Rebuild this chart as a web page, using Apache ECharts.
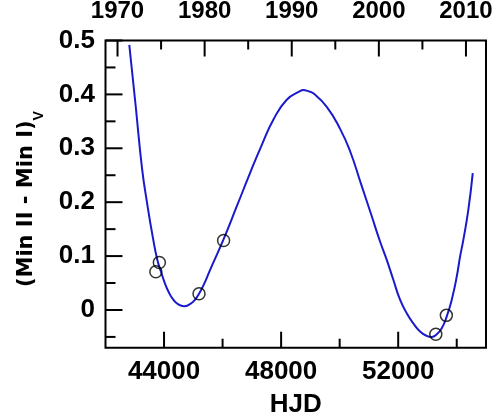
<!DOCTYPE html>
<html>
<head>
<meta charset="utf-8">
<script src="https://cdn.jsdelivr.net/npm/echarts@6/dist/echarts.min.js"></script>
<style>
  html, body { margin: 0; padding: 0; background: #fff; }
  #chart { width: 500px; height: 415px; }
</style>
</head>
<body>
<div id="chart"></div>
<script>
// Fitted (Min II - Min I) curve, sampled along HJD (HJD - 2400000)
const fitHJD = [42813, 43032, 43250, 43428, 43613, 43770, 43896, 44033, 44170, 44306,
  44477, 44682, 44887, 45058, 45195, 45366, 45571, 46025, 46483, 46938, 47337, 47734,
  48192, 48646, 48760, 48919, 49101, 49559, 50015, 50354, 50730, 51072, 51380, 51609,
  51834, 52063, 52292, 52518, 52746, 52975, 53146, 53317, 53488, 53659, 53830, 54001,
  54114, 54226, 54397, 54547];
const fitValue = [0.492, 0.378, 0.262, 0.196, 0.136, 0.093, 0.071, 0.049, 0.032, 0.020,
  0.011, 0.007, 0.011, 0.019, 0.030, 0.048, 0.074, 0.130, 0.192, 0.254, 0.306, 0.353,
  0.390, 0.406, 0.408, 0.406, 0.402, 0.377, 0.336, 0.295, 0.234, 0.178, 0.127, 0.093,
  0.056, 0.019, -0.006, -0.025, -0.040, -0.048, -0.050, -0.045, -0.034, -0.012, 0.019, 0.062,
  0.099, 0.130, 0.186, 0.254];

// Observed secondary-minus-primary minimum offsets
const obsHJD = [43720, 43840, 45195, 46035, 53285, 53645];
const obsValue = [0.071, 0.088, 0.030, 0.129, -0.045, -0.010];

// Tick positions
const hjdMajorTicks = [44000, 48000, 52000];
const hjdMinorTicks = [46000, 50000, 54000];
const yearMajorTicks = [1970, 1980, 1990, 2000, 2010];
const yearMinorTicks = [1975, 1985, 1995, 2005];
const yMajorTicks = [0, 0.1, 0.2, 0.3, 0.4, 0.5];
const yMinorTicks = [-0.05, 0.05, 0.15, 0.25, 0.35, 0.45];

const HJD_MIN = 42000, HJD_MAX = 55000;
const YEAR_MIN = 1968.62, YEAR_MAX = 2012.3;
const Y_MIN = -0.07, Y_MAX = 0.5;

const FONT = 'Liberation Sans, Arial, sans-serif';
const plain = v => String(Math.round(v));

// Inward tick marks, placed through the axes' own scales.
// dx/dy give the tick's direction and length in pixels.
function tickSeries(points, xAxisIndex, dx, dy) {
  return {
    type: 'custom',
    coordinateSystem: 'cartesian2d',
    xAxisIndex: xAxisIndex,
    yAxisIndex: 0,
    silent: true,
    z: 4,
    data: points,
    renderItem: (params, api) => {
      const p = api.coord([api.value(0), api.value(1)]);
      return {
        type: 'line',
        shape: { x1: p[0], y1: p[1], x2: p[0] + dx, y2: p[1] + dy },
        style: { stroke: '#000', lineWidth: 2 }
      };
    }
  };
}

const hidden = { show: false };

const chart = echarts.init(document.getElementById('chart'), null, { renderer: 'canvas' });

chart.setOption({
  backgroundColor: '#fff',
  animation: false,
  grid: {
    left: 105.5, right: 14, top: 40.5, bottom: 67.3,
    show: true, borderColor: '#000', borderWidth: 2, backgroundColor: 'transparent',
    containLabel: false, outerBoundsMode: 'none'
  },
  xAxis: [
    {
      type: 'value', position: 'bottom', min: HJD_MIN, max: HJD_MAX,
      splitLine: hidden, axisLine: { show: false, onZero: false }, axisTick: hidden,
      axisLabel: {
        customValues: hjdMajorTicks, margin: 11, formatter: plain,
        color: '#000', fontSize: 26, fontWeight: 'bold', fontFamily: FONT
      },
      name: 'HJD', nameLocation: 'middle', nameGap: 44,
      nameTextStyle: { color: '#000', fontSize: 26, fontWeight: 'bold', fontFamily: FONT }
    },
    {
      type: 'value', position: 'top', min: YEAR_MIN, max: YEAR_MAX,
      splitLine: hidden, axisLine: { show: false, onZero: false }, axisTick: hidden,
      axisLabel: {
        customValues: yearMajorTicks, margin: 17, formatter: plain,
        color: '#000', fontSize: 24, fontWeight: 'bold', fontFamily: FONT
      }
    }
  ],
  yAxis: [
    {
      type: 'value', position: 'left', min: Y_MIN, max: Y_MAX,
      splitLine: hidden, axisLine: { show: false, onZero: false }, axisTick: hidden,
      axisLabel: {
        customValues: yMajorTicks, margin: 10.5,
        color: '#000', fontSize: 26, fontWeight: 'bold', fontFamily: FONT,
        formatter: v => (Math.abs(v) < 1e-9 ? '0' : v.toFixed(1))
      },
      name: '{m|(Min II - Min I)}{s|V}',
      nameLocation: 'middle', nameRotate: 90, nameGap: 59,
      nameTextStyle: {
        padding: [0, 10, 0, 0],
        rich: {
          m: { fontSize: 21, fontWeight: 'bold', fontFamily: 'DejaVu Sans', color: '#000', lineHeight: 30, verticalAlign: 'top' },
          s: { fontSize: 14, fontWeight: 'bold', fontFamily: FONT, color: '#000', lineHeight: 14, verticalAlign: 'bottom' }
        }
      }
    }
  ],
  series: [
    {
      type: 'line',
      xAxisIndex: 0, yAxisIndex: 0,
      data: fitHJD.map((h, i) => [h, fitValue[i]]),
      showSymbol: false,
      smooth: 0.5,
      lineStyle: { color: '#1a1acc', width: 2 },
      z: 2
    },
    {
      type: 'scatter',
      xAxisIndex: 0, yAxisIndex: 0,
      data: obsHJD.map((h, i) => [h, obsValue[i]]),
      symbol: 'circle',
      symbolSize: 12,
      itemStyle: { color: 'transparent', borderColor: '#000', borderWidth: 1.5 },
      z: 3
    },
    // bottom (HJD) ticks
    tickSeries(hjdMajorTicks.map(v => [v, Y_MIN]), 0, 0, -16),
    tickSeries(hjdMinorTicks.map(v => [v, Y_MIN]), 0, 0, -9),
    // top (year) ticks
    tickSeries(yearMajorTicks.map(v => [v, Y_MAX]), 1, 0, 16),
    tickSeries(yearMinorTicks.map(v => [v, Y_MAX]), 1, 0, 9),
    // left ticks
    tickSeries(yMajorTicks.map(v => [HJD_MIN, v]), 0, 17, 0),
    tickSeries(yMinorTicks.map(v => [HJD_MIN, v]), 0, 10, 0)
  ]
});
</script>
</body>
</html>
